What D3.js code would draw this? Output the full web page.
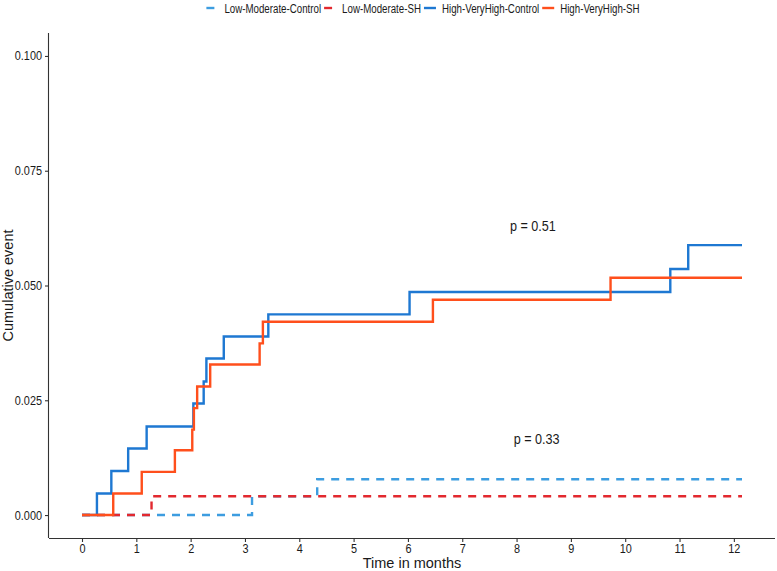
<!DOCTYPE html>
<html><head><meta charset="utf-8">
<script src="https://cdn.jsdelivr.net/npm/d3@7"></script>
<style>body{margin:0;background:#fff;} svg{display:block;} text{font-family:"Liberation Sans",Arial,sans-serif;fill:#1a1a1a;}</style>
</head><body>
<svg id="c" width="777" height="571"></svg>
<script>
const seriesNames = ["Low-Moderate-Control","Low-Moderate-SH","High-VeryHigh-Control","High-VeryHigh-SH"];
const seriesColors = ["#3d9de0","#e2292f","#1e78d2","#ff4f1c"];
const seriesDashed = [true,true,false,false];
const lmControlT = [0, 3.13, 4.33, 12.15];
const lmControlV = [0, 0.0041, 0.0078, 0.0078];
const lmShT = [0, 1.28, 12.15];
const lmShV = [0, 0.0041, 0.0041];
const hvControlT = [0, 0.275, 0.54, 0.85, 1.19, 2.05, 2.24, 2.29, 2.61, 3.43, 6.03, 10.83, 11.16, 12.15];
const hvControlV = [0, 0.0047, 0.0096, 0.0145, 0.0193, 0.0243, 0.0291, 0.0341, 0.0389, 0.0437, 0.0486, 0.0536, 0.0588, 0.0588];
const hvShT = [0, 0.575, 1.10, 1.71, 2.03, 2.06, 2.12, 2.36, 3.27, 3.33, 6.46, 9.73, 12.15];
const hvShV = [0, 0.0047, 0.0094, 0.0141, 0.0186, 0.0233, 0.0280, 0.0328, 0.0374, 0.0421, 0.0469, 0.0517, 0.0517];
const xTicks = [0,1,2,3,4,5,6,7,8,9,10,11,12];
const yTicks = [0, 0.025, 0.05, 0.075, 0.1];
const pLabels = [{t:8.3, v:0.0618, text:"p = 0.51"},{t:8.37, v:0.0155, text:"p = 0.33"}];

const seriesT = [lmControlT, lmShT, hvControlT, hvShT];
const seriesV = [lmControlV, lmShV, hvControlV, hvShV];

const svg = d3.select("#c");
const L = 49, R = 775, T = 33, B = 538;
const x = d3.scaleLinear().domain([-0.6075, 12.7575]).range([L, R]);
const y = d3.scaleLinear().domain([-0.005, 0.105]).range([B, T]);

function squeeze(sel, f) {
  sel.each(function() {
    const w = this.getComputedTextLength() * f;
    d3.select(this).attr("textLength", w).attr("lengthAdjust", "spacingAndGlyphs");
  });
}

// axes
const xAxis = svg.append("g").attr("transform", `translate(0,${B})`)
  .call(d3.axisBottom(x).tickValues(xTicks).tickSize(4).tickPadding(2).tickFormat(d3.format("d")));
const yAxis = svg.append("g").attr("transform", `translate(${L},0)`)
  .call(d3.axisLeft(y).tickValues(yTicks).tickSize(4).tickPadding(3).tickFormat(d3.format(".3f")));
[xAxis, yAxis].forEach(a => {
  a.select(".domain").attr("stroke", "#333").attr("stroke-width", 1.1);
  a.selectAll(".tick line").attr("stroke", "#333").attr("stroke-width", 1.1);
  a.selectAll(".tick text").attr("font-size", 12.5).attr("fill", "#222")
    .attr("font-family", '"Liberation Sans",Arial,sans-serif');
  squeeze(a.selectAll(".tick text"), 0.87);
});
xAxis.select(".domain").attr("d", `M${L},0.5H${R}`);
yAxis.select(".domain").attr("d", `M-0.5,${T}V${B}`);

// lines
const line = d3.line().x(d => x(d[0])).y(d => y(d[1])).curve(d3.curveStepAfter);
seriesNames.forEach((n, i) => {
  const pts = seriesT[i].map((t, j) => [t, seriesV[i][j]]);
  svg.append("path").datum(pts).attr("d", line)
    .attr("fill", "none").attr("stroke", seriesColors[i]).attr("stroke-width", 2.4)
    .attr("stroke-dasharray", seriesDashed[i] ? "8,7" : null);
});

// p-values
pLabels.forEach(p => {
  const t = svg.append("text").attr("x", x(p.t)).attr("y", y(p.v)).attr("text-anchor", "middle")
    .attr("font-size", 14.5).text(p.text);
  squeeze(t, 0.87);
});

// axis titles
svg.append("text").attr("x", (L + R) / 2).attr("y", 568).attr("text-anchor", "middle")
  .attr("font-size", 14.5).text("Time in months");
svg.append("text").attr("transform", `translate(13,${(T + B) / 2}) rotate(-90)`).attr("text-anchor", "middle")
  .attr("font-size", 14.5).text("Cumulative event");

// legend
const lg = svg.append("g");
let cx = 0;
seriesNames.forEach((n, i) => {
  const g = lg.append("g");
  g.append("line").attr("x1", cx).attr("x2", cx + 12).attr("y1", 8).attr("y2", 8)
    .attr("stroke", seriesColors[i]).attr("stroke-width", 2.4)
    .attr("stroke-dasharray", seriesDashed[i] ? "8,7" : null);
  const tx = g.append("text").attr("x", cx + 18).attr("y", 12.5).attr("font-size", 12).text(n);
  const w = tx.node().getComputedTextLength() * 0.81;
  tx.attr("textLength", w).attr("lengthAdjust", "spacingAndGlyphs");
  cx = cx + 18 + w + 3;
});
const totalW = cx - 3;
lg.attr("transform", `translate(${423 - totalW / 2},0)`);
</script>
</body></html>
